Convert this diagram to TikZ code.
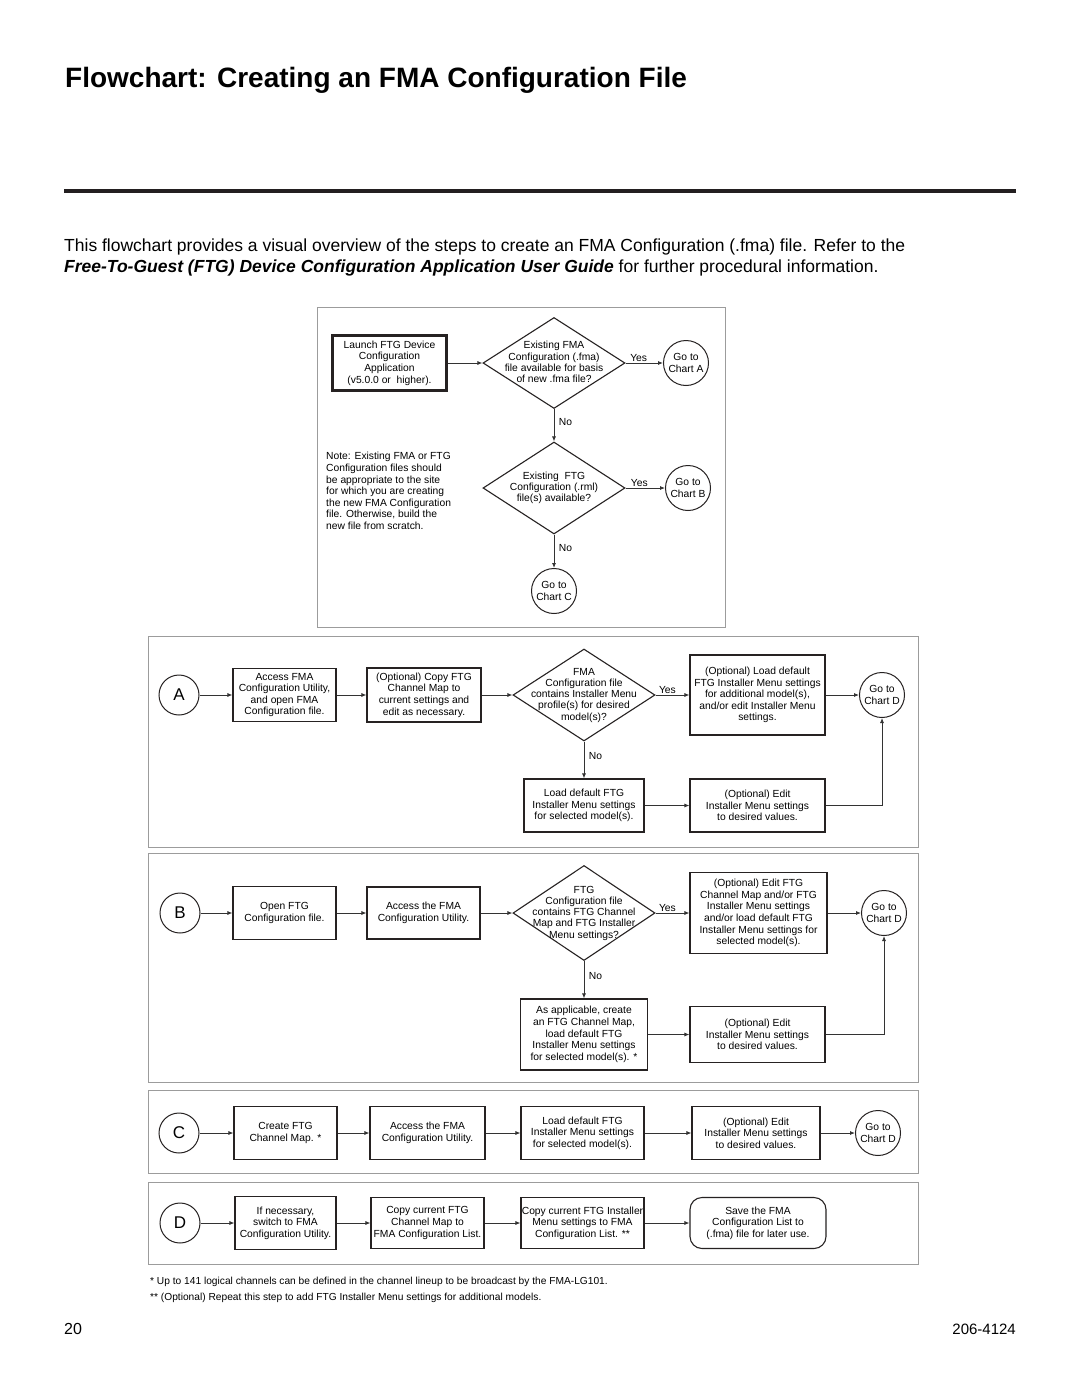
\documentclass[tikz,border=0pt]{standalone}
\usepackage{fontspec}
\setmainfont{Liberation Sans}
\usepackage{xcolor}
\usepackage{tikz}
\usetikzlibrary{shapes.geometric,arrows.meta}

\definecolor{framegray}{HTML}{9C9C9C}
\definecolor{linegray}{HTML}{333333}
\definecolor{boxline}{HTML}{262222}
\definecolor{rulecol}{HTML}{231F20}

\newcommand{\boxfont}{\fontsize{10.3}{11.6}\selectfont}
\newcommand{\dlines}[1]{\makebox[0pt]{\smash{\raisebox{-3pt}{\fontsize{10.3}{11.2}\selectfont\begin{tabular}{@{}c@{}}#1\end{tabular}}}}}

\begin{document}
\begin{tikzpicture}[x=1pt,y=-1pt,
    frame/.style={draw=framegray, line width=1pt},
    stepbox/.style={draw=boxline, line width=1.1pt, align=center, inner sep=0pt, font=\boxfont},
    decision/.style={draw=boxline, line width=1.1pt, diamond, inner sep=0pt, font=\boxfont},
    goto/.style={draw=boxline, line width=1pt, circle, inner sep=0pt, minimum size=45pt, align=center, font=\boxfont},
    letter/.style={draw=boxline, line width=1pt, circle, inner sep=0pt, minimum size=40pt, font=\fontsize{17}{17}\selectfont},
    arr/.style={draw=linegray, line width=0.8pt, -{Latex[length=5pt,width=4pt]}},
    lbl/.style={font=\boxfont, inner sep=1.5pt}]

                \useasboundingbox[fill=white] (0,0) rectangle (1080,1397);

                %% heading
                \node[anchor=base west, inner sep=0pt, font=\fontsize{28}{30}\selectfont\bfseries] (title) at (65,88) {Flowchart: Creating an FMA Configuration File};
                \draw[rulecol, line width=4pt] (64,191) -- (1016,191);
                \node[anchor=base west, inner sep=0pt, font=\fontsize{17.5}{21}\selectfont] (introA) at (64,251) {This flowchart provides a visual overview of the steps to create an FMA Configuration (.fma) file. Refer to the};
                \node[anchor=base west, inner sep=0pt, font=\fontsize{17.5}{21}\selectfont] (introB) at (64,272) {\textbf{\textit{Free-To-Guest (FTG) Device Configuration Application User Guide}} for further procedural information.};

                %% start
                \draw[frame] (317,307) rectangle (725,627);
                \node[stepbox, line width=2.6pt, minimum width=114pt, minimum height=55pt] (launch) at (389.5,363) {Launch FTG Device\\Configuration\\Application\\(v5.0.0 or\ \ higher).};
                \node[decision, minimum width=142pt, minimum height=91pt] (fmaq) at (554,363) {\dlines{Existing FMA\\Configuration (.fma)\\file available for basis\\of new .fma file?}};
                \node[goto] (gotoA) at (686,363) {Go to\\Chart A};
                \node[decision, minimum width=142pt, minimum height=92pt] (rmlq) at (554,488) {\dlines{Existing\ \ FTG\\Configuration (.rml)\\file(s) available?}};
                \node[goto] (gotoB) at (688,488) {Go to\\Chart B};
                \node[goto] (gotoC) at (554,591) {Go to\\Chart C};
                \node[anchor=west, align=left, inner sep=0pt, font=\boxfont] (note) at (326,491) {Note: Existing FMA or FTG\\Configuration files should\\be appropriate to the site\\for which you are creating\\the new FMA Configuration\\file. Otherwise, build the\\new file from scratch.};

                \draw[arr] (launch) -- (fmaq);
                \draw[arr] (fmaq) -- node[lbl, above, pos=0.35] {Yes} (gotoA);
                \draw[arr] (fmaq) -- node[lbl, right=3pt, pos=0.4] {No} (rmlq);
                \draw[arr] (rmlq) -- node[lbl, above, pos=0.35] {Yes} (gotoB);
                \draw[arr] (rmlq) -- node[lbl, right=3pt, pos=0.4] {No} (gotoC);

                %% chart A
                \draw[frame] (148,636) rectangle (918,847);
                \node[letter] (chartA) at (179,695) {A};
                \node[stepbox, minimum width=103pt, minimum height=53pt] (accfma) at (284.5,695) {Access FMA\\Configuration Utility,\\and open FMA\\Configuration file.};
                \node[stepbox, minimum width=114pt, minimum height=54pt] (copymap) at (424,695) {(Optional) Copy FTG\\Channel Map to\\current settings and\\edit as necessary.};
                \node[decision, minimum width=142pt, minimum height=92pt] (profq) at (584,695) {\dlines{FMA\\Configuration file\\contains Installer Menu\\profile(s) for desired\\model(s)?}};
                \node[stepbox, minimum width=135pt, minimum height=80pt] (loadadd) at (757.5,695) {(Optional) Load default\\FTG Installer Menu settings\\for additional model(s),\\and/or edit Installer Menu\\settings.};
                \node[goto] (gotoDa) at (882,695) {Go to\\Chart D};
                \node[stepbox, minimum width=120pt, minimum height=53pt] (loadsel) at (584,805.5) {Load default FTG\\Installer Menu settings\\for selected model(s).};
                \node[stepbox, minimum width=135pt, minimum height=53pt] (editA) at (757.5,805.5) {(Optional) Edit\\Installer Menu settings\\to desired values.};

                \draw[arr] (chartA) -- (accfma);
                \draw[arr] (accfma) -- (copymap);
                \draw[arr] (copymap) -- (profq);
                \draw[arr] (profq) -- node[lbl, above, pos=0.35] {Yes} (loadadd);
                \draw[arr] (loadadd) -- (gotoDa);
                \draw[arr] (profq) -- node[lbl, right=3pt, pos=0.4] {No} (loadsel);
                \draw[arr] (loadsel) -- (editA);
                \draw[arr] (editA) -| (gotoDa);

                %% chart B
                \draw[frame] (148,853) rectangle (918,1082);
                \node[letter] (chartB) at (180,913) {B};
                \node[stepbox, minimum width=103pt, minimum height=53pt] (openftg) at (284.5,913) {Open FTG\\Configuration file.};
                \node[stepbox, minimum width=113pt, minimum height=52pt] (accutilB) at (423.5,913) {Access the FMA\\Configuration Utility.};
                \node[decision, minimum width=142pt, minimum height=95pt] (mapq) at (584,913) {\dlines{FTG\\Configuration file\\contains FTG Channel\\Map and FTG Installer\\Menu settings?}};
                \node[stepbox, minimum width=137pt, minimum height=81pt] (editftg) at (758.5,913) {(Optional) Edit FTG\\Channel Map and/or FTG\\Installer Menu settings\\and/or load default FTG\\Installer Menu settings for\\selected model(s).};
                \node[goto] (gotoDb) at (884,913) {Go to\\Chart D};
                \node[stepbox, minimum width=127pt, minimum height=71pt] (createmap) at (584,1034.5) {As applicable, create\\an FTG Channel Map,\\load default FTG\\Installer Menu settings\\for selected model(s). *};
                \node[stepbox, minimum width=135pt, minimum height=56pt] (editB) at (757.5,1034.5) {(Optional) Edit\\Installer Menu settings\\to desired values.};

                \draw[arr] (chartB) -- (openftg);
                \draw[arr] (openftg) -- (accutilB);
                \draw[arr] (accutilB) -- (mapq);
                \draw[arr] (mapq) -- node[lbl, above, pos=0.35] {Yes} (editftg);
                \draw[arr] (editftg) -- (gotoDb);
                \draw[arr] (mapq) -- node[lbl, right=3pt, pos=0.4] {No} (createmap);
                \draw[arr] (createmap) -- (editB);
                \draw[arr] (editB) -| (gotoDb);

                %% chart C
                \draw[frame] (148,1090) rectangle (918,1173);
                \node[letter] (chartC) at (179,1133) {C};
                \node[stepbox, minimum width=103pt, minimum height=53pt] (crmap) at (285.5,1133) {Create FTG\\Channel Map. *};
                \node[stepbox, minimum width=115pt, minimum height=53pt] (accutilC) at (427.5,1133) {Access the FMA\\Configuration Utility.};
                \node[stepbox, minimum width=123pt, minimum height=53pt] (loadC) at (582.5,1133) {Load default FTG\\Installer Menu settings\\for selected model(s).};
                \node[stepbox, minimum width=128pt, minimum height=53pt] (editC) at (756,1133) {(Optional) Edit\\Installer Menu settings\\to desired values.};
                \node[goto] (gotoDc) at (878,1133) {Go to\\Chart D};

                \foreach \a/\b in {chartC/crmap, crmap/accutilC, accutilC/loadC, loadC/editC, editC/gotoDc}
                    \draw[arr] (\a) -- (\b);

                %% chart D
                \draw[frame] (148,1182) rectangle (918,1264);
                \node[letter] (chartD) at (180,1223) {D};
                \node[stepbox, minimum width=101pt, minimum height=53pt] (switchD) at (285.5,1223) {If necessary,\\switch to FMA\\Configuration Utility.};
                \node[stepbox, minimum width=113pt, minimum height=51pt] (copyD) at (427.5,1223) {Copy current FTG\\Channel Map to\\FMA Configuration List.};
                \node[stepbox, minimum width=123pt, minimum height=51pt] (copyinst) at (582.5,1223) {Copy current FTG Installer\\Menu settings to FMA\\Configuration List. **};
                \node[stepbox, rounded corners=12pt, minimum width=136pt, minimum height=51pt] (savefma) at (758,1223) {Save the FMA\\Configuration List to\\(.fma) file for later use.};

                \foreach \a/\b in {chartD/switchD, switchD/copyD, copyD/copyinst, copyinst/savefma}
                    \draw[arr] (\a) -- (\b);

                %% notes
                \node[anchor=base west, inner sep=0pt, font=\fontsize{10.2}{12}\selectfont] (fnA) at (150,1284) {* Up to 141 logical channels can be defined in the channel lineup to be broadcast by the FMA-LG101.};
                \node[anchor=base west, inner sep=0pt, font=\fontsize{10.2}{12}\selectfont] (fnB) at (150,1300) {** (Optional) Repeat this step to add FTG Installer Menu settings for additional models.};
                \node[anchor=base west, inner sep=0pt, font=\fontsize{16}{18}\selectfont] (pagenum) at (64,1334) {20};
                \node[anchor=base east, inner sep=0pt, font=\fontsize{15}{18}\selectfont] (docnum) at (1016,1334) {206-4124};

\end{tikzpicture}
\end{document}
